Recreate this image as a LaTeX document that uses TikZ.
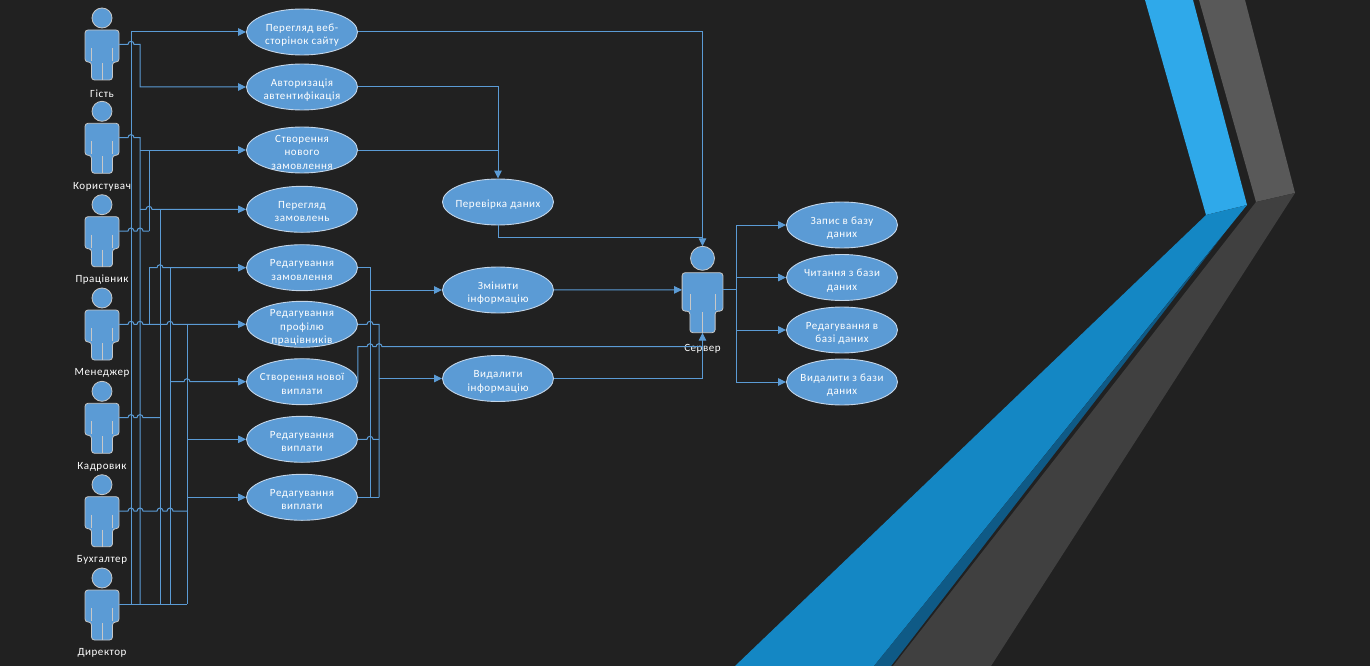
\documentclass[tikz,border=0pt]{standalone}
\usepackage{fontspec}
\setmainfont{Carlito}[LetterSpace=5]
\usetikzlibrary{shapes.geometric,arrows.meta}

\definecolor{bg}{HTML}{212121}
\definecolor{ucfill}{HTML}{5B9BD5}
\definecolor{linkblue}{HTML}{5B9BD5}
\definecolor{rim}{HTML}{C3D5E8}
\definecolor{figrim}{HTML}{C8C8C8}
\definecolor{bandhi}{HTML}{2FA9EA}
\definecolor{bandlo}{HTML}{1487C4}
\definecolor{banddk}{HTML}{0F5A86}
\definecolor{greyhi}{HTML}{595959}
\definecolor{greylo}{HTML}{404040}

\newcommand{\ucfont}{\fontsize{11}{13.3}\selectfont}
% ellipse text, boxed to zero size so the shape keeps its size
\newcommand{\uct}[1]{\makebox[0pt]{\smash{\raisebox{-6pt}{\begin{tabular}{@{}c@{}}#1\end{tabular}}}}}
% jump over a vertical line at x=#1, on the level of #2
\newcommand{\hop}[2]{-- (#1-3,0 |- #2) arc[start angle=180,end angle=0,radius=3pt]}

\tikzset{
actor/.pic={
\draw[fill=ucfill,draw=figrim,line width=0.8pt] (0,-12) circle[radius=10pt];
\draw[fill=ucfill,draw=figrim,line width=0.8pt,rounded corners=3pt]
  (-10.5,50) -- (-10.5,32) -- (-17,32) -- (-17,0) -- (17,0) -- (17,32)
  -- (10.5,32) -- (10.5,50) -- cycle;
\draw[figrim,line width=0.6pt] (-10.5,18) -- (-10.5,31) (10.5,18) -- (10.5,31)
  (0,33) -- (0,50);
\coordinate (-port) at (17,14.3);
\coordinate (-lport) at (-17,14.3);
\coordinate (-top) at (0,-22);
\coordinate (-bot) at (0,50);
\node[who] (-name) at (0,63.3) {#1};
}}

\begin{document}
\begin{tikzpicture}[x=1pt,y=-1pt,
uc/.style={ellipse,fill=ucfill,draw=rim,line width=0.9pt,
  minimum width=111pt,minimum height=46pt,inner sep=0pt,
  text=white,font=\ucfont},
who/.style={text=white,font=\ucfont,inner sep=0pt},
link/.style={draw=linkblue,line width=1pt},
arr/.style={link,-{Triangle[length=8pt,width=7.5pt]}}]
\useasboundingbox (0,0) rectangle (1370,666);
\fill[bg] (0,0) rectangle (1370,666);

% bands
\fill[bandhi] (1145,0) -- (1193,0) -- (1247,205) -- (1206,215) -- cycle;
\fill[bandlo] (1206,215) -- (1247,205) -- (874,666) -- (735,666) -- cycle;
\fill[banddk] (1223,235) -- (891,666) -- (874,666) -- cycle;
\fill[greyhi] (1199,0) -- (1245,0) -- (1295,193) -- (1256,202) -- cycle;
\fill[greylo] (1256,202) -- (1295,193) -- (991,666) -- (893,666) -- cycle;

% actors
\pic (guest) at (102,30) {actor=Гість};
\pic (user) at (102,123.3) {actor=Користувач};
\pic (staff) at (102,216.7) {actor=Працівник};
\pic (mgr) at (102,310) {actor=Менеджер};
\pic (hr) at (102,403.3) {actor=Кадровик};
\pic (acc) at (102,496.7) {actor=Бухгалтер};
\pic (dir) at (102,590) {actor=Директор};
\pic[scale=1.2] (srv) at (702.5,272.7) {actor=Сервер};

% use cases
\node[uc] (web) at (302,32) {\uct{Перегляд веб-\\сторінок сайту}};
\node[uc] (auth) at (302,87) {\uct{Авторизація\\автентифікація}};
\node[uc] (neworder) at (302,150) {\uct{Створення\\нового\\замовлення}};
\node[uc] (orders) at (302,209.3) {\uct{Перегляд\\замовлень}};
\node[uc] (editorder) at (302,267.7) {\uct{Редагування\\замовлення}};
\node[uc] (editstaff) at (302,324.3) {\uct{Редагування\\профілю\\працівників}};
\node[uc] (newpay) at (302,381.7) {\uct{Створення нової\\виплати}};
\node[uc] (editpay) at (302,439.3) {\uct{Редагування\\виплати}};
\node[uc] (editpay2) at (302,497.3) {\uct{Редагування\\виплати}};
\node[uc] (check) at (498,202) {\uct{Перевірка даних}};
\node[uc] (change) at (498,290) {\uct{Змінити\\інформацію}};
\node[uc] (delete) at (498,378.5) {\uct{Видалити\\інформацію}};
\node[uc] (dbwrite) at (842,225) {\uct{Запис в базу\\даних}};
\node[uc] (dbread) at (842,277.5) {\uct{Читання з бази\\даних}};
\node[uc] (dbedit) at (842,330) {\uct{Редагування в\\базі даних}};
\node[uc] (dbdel) at (842,382) {\uct{Видалити з бази\\даних}};

% actors to use cases
\draw[link] (131,0 |- web) -- (131,0 |- dir-port);
\draw[arr] (131,0 |- web) -- (web);
\draw[arr] (guest-port) \hop{131}{guest-port} -- (140,0 |- guest-port) |- (auth);
\draw[link] (user-port) \hop{131}{user-port} -- (140,0 |- user-port) -- (140,0 |- dir-port);
\draw[arr] (140,0 |- neworder) -- (neworder);
\draw[arr] (140,0 |- orders) \hop{149}{orders} -- (orders);
\draw[link] (149,0 |- neworder) -- (149,0 |- staff-port);
\draw[link] (staff-port) \hop{131}{staff-port} \hop{140}{staff-port} -- (149,0 |- staff-port);
\draw[link] (160,0 |- orders) -- (160,0 |- dir-port);
\draw[arr] (149,0 |- editorder) \hop{160}{editorder} -- (editorder);
\draw[link] (149,0 |- editorder) -- (149,0 |- mgr-port);
\draw[link] (170,0 |- editorder) -- (170,0 |- dir-port);
\draw[arr] (mgr-port) \hop{131}{mgr-port} \hop{140}{mgr-port} \hop{170}{mgr-port} -- (editstaff);
\draw[link] (187,0 |- editstaff) -- (187,0 |- dir-port);
\draw[link] (hr-port) \hop{131}{hr-port} \hop{140}{hr-port} -- (160,0 |- hr-port);
\draw[arr] (170,0 |- newpay) \hop{187}{newpay} -- (newpay);
\draw[arr] (187,0 |- editpay) -- (editpay);
\draw[link] (acc-port) \hop{131}{acc-port} \hop{140}{acc-port} \hop{160}{acc-port}
  \hop{170}{acc-port} -- (187,0 |- acc-port);
\draw[arr] (187,0 |- editpay2) -- (editpay2);
\draw[link] (dir-port) -- (187,0 |- dir-port);

% use cases to server
\coordinate (hub) at (702.5,237.7);
\coordinate (payup) at (newpay.east |- 0,346.7);
\draw[arr] (web) -| (srv-top);
\draw[arr] (auth) -| (check);
\draw[link] (neworder) -- (check |- neworder);
\draw[link] (check) |- (hub);
\draw[arr] (change) -- (srv-lport);
\draw[arr] (delete) -| (srv-bot);
\draw[link] (newpay.east) -- (payup) \hop{370}{payup} \hop{379}{payup} -- (srv-bot |- payup);
\draw[link] (editorder) -- (370,0 |- editorder) -- (370,0 |- editpay2);
\draw[arr] (370,0 |- change) -- (change);
\draw[link] (editstaff) \hop{370}{editstaff} -- (379,0 |- editstaff) -- (379,0 |- editpay2);
\draw[arr] (379,0 |- delete) -- (delete);
\draw[link] (editpay) \hop{370}{editpay} -- (379,0 |- editpay);
\draw[link] (editpay2) -- (379,0 |- editpay2);

% server to database
\draw[link] (srv-port) -- (736,0 |- srv-port);
\draw[link] (736,0 |- dbwrite) -- (736,0 |- dbdel);
\foreach \t in {dbwrite,dbread,dbedit,dbdel}
  \draw[arr] (736,0 |- \t) -- (\t);
\end{tikzpicture}
\end{document}
